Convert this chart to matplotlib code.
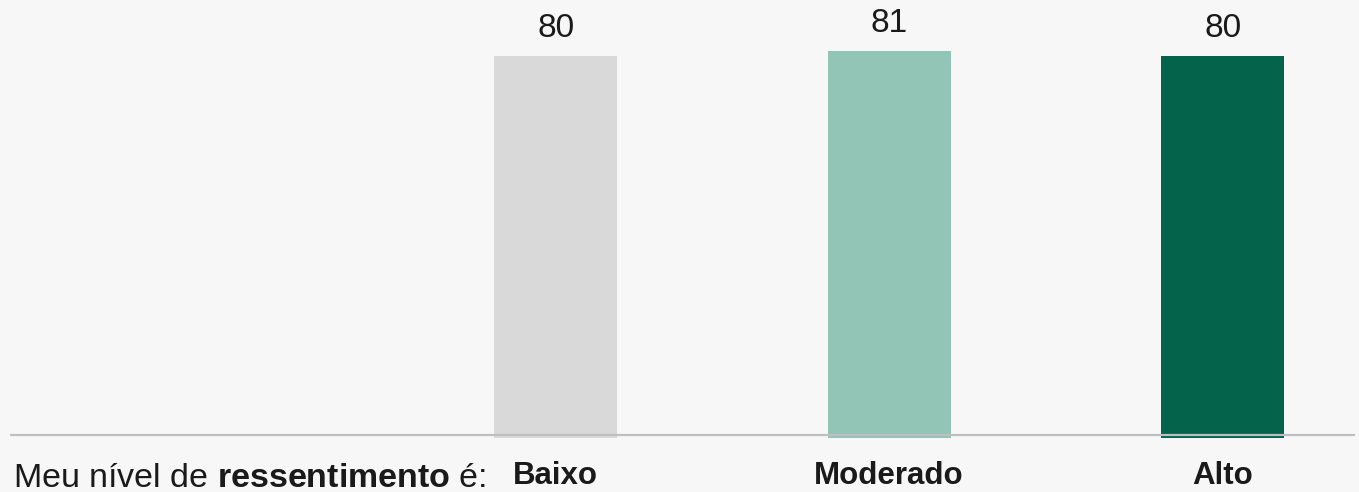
import matplotlib
matplotlib.use("Agg")
import matplotlib.pyplot as plt

# data
categories = ["Baixo", "Moderado", "Alto"]
values = [80, 81, 80]
colors = ["#d9d9d9", "#92c5b5", "#03634b"]
row_label = "Meu nível de $\\mathbf{ressentimento}$ é:"

plt.rcParams["font.family"] = "Liberation Sans"
plt.rcParams["mathtext.fontset"] = "custom"
plt.rcParams["mathtext.rm"] = "Liberation Sans"
plt.rcParams["mathtext.bf"] = "Liberation Sans:bold"

BG = "#f7f7f7"
INK = "#1a1a1a"
W, H = 1359, 492
fig = plt.figure(figsize=(W / 100, H / 100), dpi=100, facecolor=BG)
# axes placed in pixel terms: left edge of baseline at 10px, bar bottom at ~438px from top
ax = fig.add_axes([10 / W, (H - 437.7) / H, 1345 / W, 437.7 / H])
ax.set_facecolor(BG)

xs = list(range(1, len(categories) + 1))
ax.bar(xs, values, width=0.369, color=colors, zorder=2)
for x, v in zip(xs, values):
    ax.annotate(f"{v}", (x, v), xytext=(0, 13.7), textcoords="offset points",
                ha="center", va="baseline", fontsize=24, color=INK)

# category labels under the bars
for x, c in zip(xs, categories):
    ax.annotate(c, (x, 0), xycoords=("data", "axes fraction"),
                xytext=(0, -33.3), textcoords="offset points",
                ha="center", va="baseline", fontsize=22.5, fontweight="bold",
                color=INK, annotation_clip=False)

# baseline rule (sits slightly above the bar bottoms, drawn over them)
ax.axhline(0.5, color="#bfbfbf", lw=1.6, zorder=3)

ax.set_xlim(-0.636, 3.397)
ax.set_ylim(0, 91.7)
for s in ax.spines.values():
    s.set_visible(False)
ax.set_xticks([])
ax.set_yticks([])

fig.text(13 / W, 1 - 487 / H, row_label, fontsize=24.5, color=INK,
         ha="left", va="baseline")

fig.savefig("out.png", dpi=100, facecolor=BG)
